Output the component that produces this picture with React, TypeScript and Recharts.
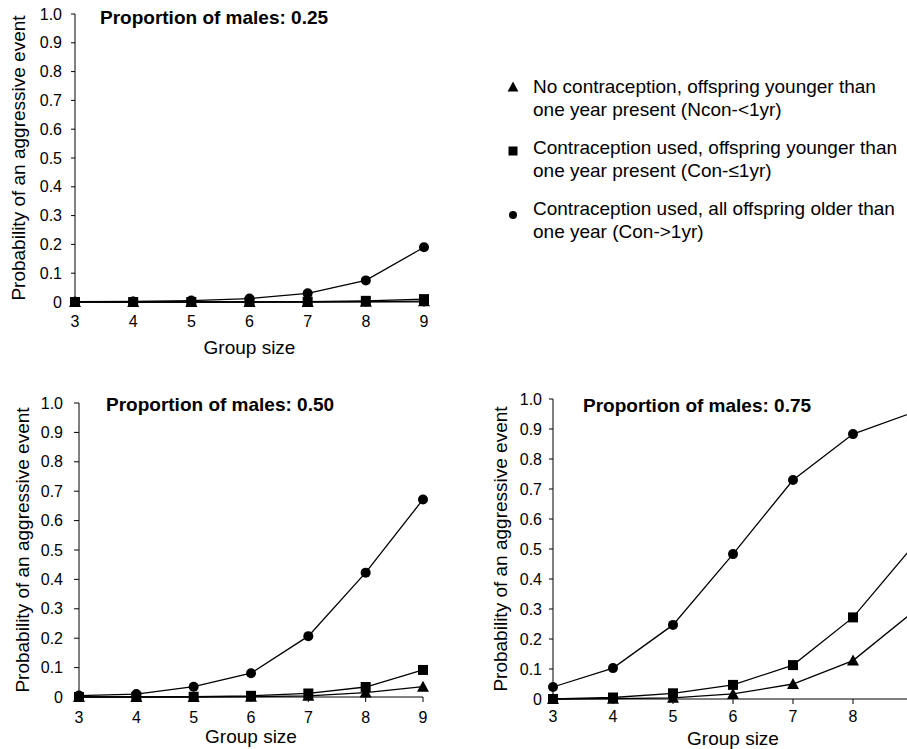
import React from 'react';
import { LineChart, Line, XAxis, YAxis } from 'recharts';

const FONT = '"Liberation Sans", Arial, Helvetica, sans-serif';

const GROUP_SIZES = [3, 4, 5, 6, 7, 8, 9];
const Y_TICKS = [0, 0.1, 0.2, 0.3, 0.4, 0.5, 0.6, 0.7, 0.8, 0.9, 1.0];

// proportion of males 0.25
const NCON_25 = [0, 0, 0, 0, 0, 0.001, 0.003];
const CONLE_25 = [0, 0, 0, 0, 0.001, 0.004, 0.01];
const CONGT_25 = [0.001, 0.002, 0.005, 0.012, 0.03, 0.075, 0.19];

// proportion of males 0.50
const NCON_50 = [0, 0, 0, 0.001, 0.004, 0.015, 0.035];
const CONLE_50 = [0, 0, 0.001, 0.004, 0.012, 0.034, 0.092];
const CONGT_50 = [0.005, 0.01, 0.035, 0.081, 0.207, 0.423, 0.672];

// proportion of males 0.75
const NCON_75 = [0, 0.001, 0.004, 0.017, 0.05, 0.128, 0.29];
const CONLE_75 = [0, 0.005, 0.019, 0.047, 0.113, 0.272, 0.51];
const CONGT_75 = [0.04, 0.103, 0.247, 0.483, 0.73, 0.883, 0.955];

const TITLES = ['Proportion of males: 0.25', 'Proportion of males: 0.50', 'Proportion of males: 0.75'];
const Y_TITLE = 'Probability of an aggressive event';
const X_TITLE = 'Group size';

type Shape = 'triangle' | 'square' | 'circle';

const SERIES: { key: string; shape: Shape; lines: string[] }[] = [
  { key: 'ncon', shape: 'triangle', lines: ['No contraception, offspring younger than', 'one year present (Ncon-<1yr)'] },
  { key: 'conLe', shape: 'square', lines: ['Contraception used, offspring younger than', 'one year present (Con-\u22641yr)'] },
  { key: 'conGt', shape: 'circle', lines: ['Contraception used, all offspring older than', 'one year (Con->1yr)'] },
];

const PANEL_VALUES = [
  { ncon: NCON_25, conLe: CONLE_25, conGt: CONGT_25 },
  { ncon: NCON_50, conLe: CONLE_50, conGt: CONGT_50 },
  { ncon: NCON_75, conLe: CONLE_75, conGt: CONGT_75 },
];

// last panel is cut off by the page edge, so its "9" label is not shown
const X_TICK_LABELS = [GROUP_SIZES, GROUP_SIZES, GROUP_SIZES.slice(0, 6)];

const LAYOUT = [
  { left: 0, top: 0, width: 440, height: 360, mTop: 14, mRight: 16, yWidth: 75, xHeight: 58, xGap: 9, yTick: 4, yGap: 9, yTitleOff: 18, xTitleOff: 6, titleX: 100, titleY: 7 },
  { left: 0, top: 360, width: 440, height: 389, mTop: 43, mRight: 17, yWidth: 79, xHeight: 52, xGap: 10, yTick: 5, yGap: 11, yTitleOff: 22, xTitleOff: 6, titleX: 106, titleY: 394 },
  { left: 460, top: 360, width: 460, height: 389, mTop: 39, mRight: 7, yWidth: 93, xHeight: 50, xGap: 7, yTick: 4, yGap: 7, yTitleOff: 40, xTitleOff: 4, titleX: 583, titleY: 395 },
];

const Marker = ({ cx, cy, shape, size = 1 }: { cx?: number; cy?: number; shape: Shape; size?: number }) => {
  if (cx == null || cy == null) return null;
  if (shape === 'circle') return <circle cx={cx} cy={cy} r={5 * size} fill="#000" />;
  if (shape === 'square') return <rect x={cx - 5 * size} y={cy - 5 * size} width={10 * size} height={10 * size} fill="#000" />;
  return <polygon points={`${cx},${cy - 6 * size} ${cx + 6 * size},${cy + 5 * size} ${cx - 6 * size},${cy + 5 * size}`} fill="#000" />;
};

const Panel = ({ idx }: { idx: number }) => {
  const L = LAYOUT[idx];
  const vals = PANEL_VALUES[idx] as Record<string, number[]>;
  const data = GROUP_SIZES.map((g, i) => ({
    size: g,
    ncon: vals.ncon[i],
    conLe: vals.conLe[i],
    conGt: vals.conGt[i],
  }));
  return (
    <>
      <div style={{ position: 'absolute', left: L.left, top: L.top }}>
        <LineChart width={L.width} height={L.height} data={data} margin={{ top: L.mTop, right: L.mRight, bottom: 0, left: 0 }}>
          <XAxis
            dataKey="size"
            type="number"
            domain={[3, 9]}
            ticks={X_TICK_LABELS[idx]}
            height={L.xHeight}
            stroke="#000"
            tickSize={5}
            tickMargin={L.xGap}
            tick={{ fontSize: 16, fill: '#000', fontFamily: FONT }}
            label={{ value: X_TITLE, position: 'insideBottom', offset: L.xTitleOff, fontSize: 19, fill: '#000', fontFamily: FONT }}
          />
          <YAxis
            type="number"
            domain={[0, 1]}
            ticks={Y_TICKS}
            width={L.yWidth}
            stroke="#000"
            tickSize={L.yTick}
            tickMargin={L.yGap}
            tickFormatter={(v: number) => (v === 0 ? '0' : v.toFixed(1))}
            tick={{ fontSize: 16, fill: '#000', fontFamily: FONT }}
            label={{
              value: Y_TITLE,
              angle: -90,
              position: 'insideLeft',
              offset: L.yTitleOff,
              fontSize: 19,
              fill: '#000',
              fontFamily: FONT,
              style: { textAnchor: 'middle' },
            }}
          />
          {SERIES.map((s) => (
            <Line
              key={s.key}
              type="linear"
              dataKey={s.key}
              stroke="#000"
              strokeWidth={1.3}
              isAnimationActive={false}
              dot={(p: any) => <Marker key={`${s.key}-${p.index}`} cx={p.cx} cy={p.cy} shape={s.shape} />}
              activeDot={false}
            />
          ))}
        </LineChart>
      </div>
      <div
        style={{
          position: 'absolute',
          left: L.titleX,
          top: L.titleY,
          fontFamily: FONT,
          fontWeight: 'bold',
          fontSize: 19,
          lineHeight: '22px',
          whiteSpace: 'nowrap',
        }}
      >
        {TITLES[idx]}
      </div>
    </>
  );
};

const LegendBox = () => (
  <div style={{ position: 'absolute', left: 505, top: 75, fontFamily: FONT, fontSize: 19, lineHeight: '23px', color: '#000' }}>
    {SERIES.map((s, i) => (
      <div key={s.key} style={{ display: 'flex', alignItems: 'flex-start', marginBottom: 15, whiteSpace: 'nowrap' }}>
        <svg width={20} height={23} style={{ flex: 'none', marginRight: 8, marginTop: i * 3 }}>
          <Marker cx={8} cy={12} shape={s.shape} size={s.shape === 'circle' ? 0.8 : 0.9} />
        </svg>
        <div>
          {s.lines.map((t) => (
            <div key={t}>{t}</div>
          ))}
        </div>
      </div>
    ))}
  </div>
);

export default function App() {
  return (
    <div style={{ position: 'fixed', left: 0, top: 0, width: 907, height: 749, overflow: 'hidden', background: '#fff' }}>
      <Panel idx={0} />
      <Panel idx={1} />
      <Panel idx={2} />
      <LegendBox />
    </div>
  );
}
